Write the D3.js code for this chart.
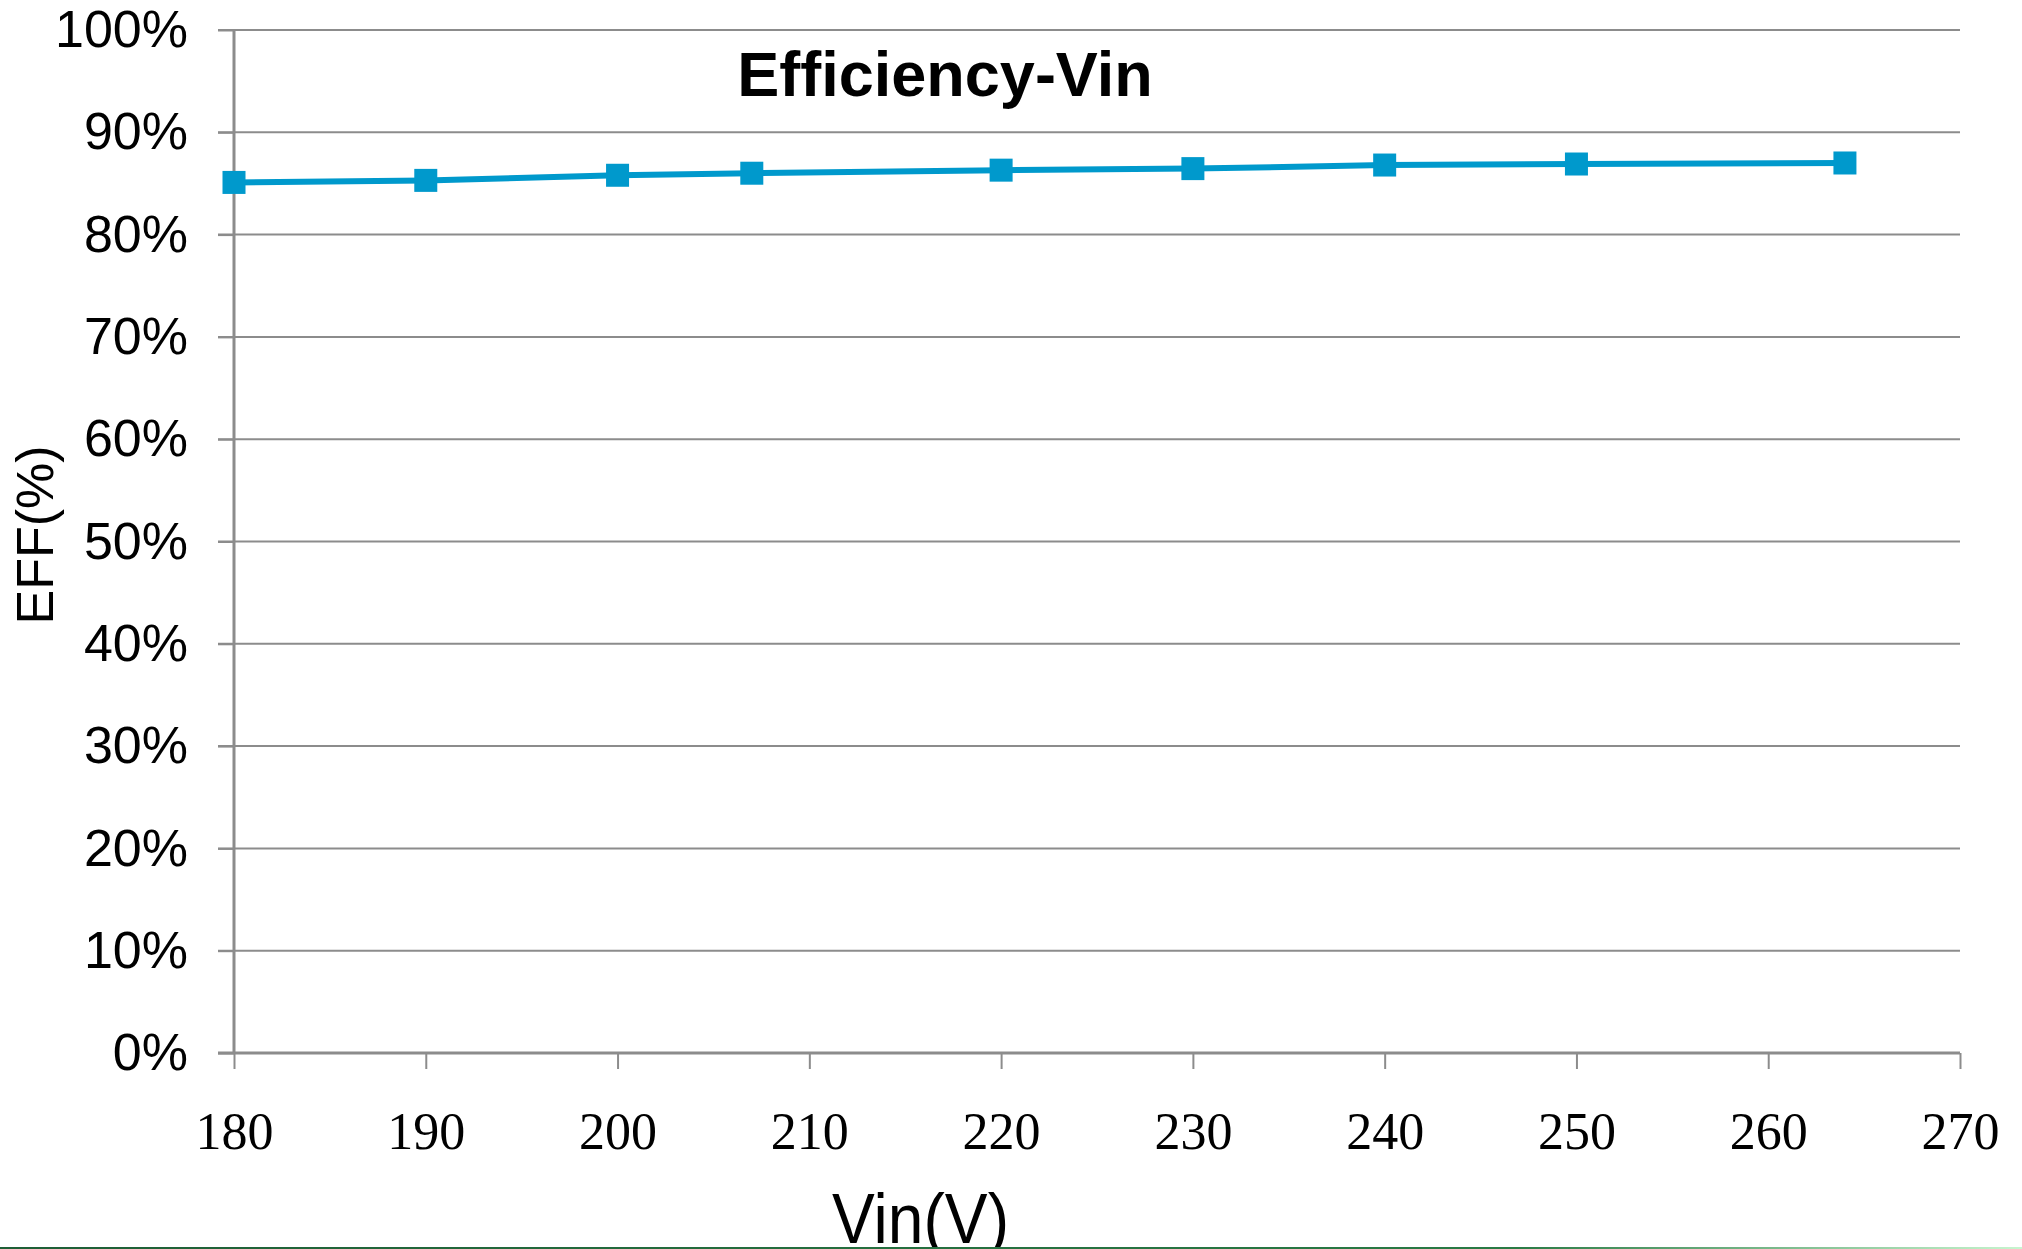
<!DOCTYPE html>
<html>
<head>
<meta charset="utf-8">
<script src="https://cdn.jsdelivr.net/npm/d3@7"></script>
<style>
  html, body { margin: 0; padding: 0; background: #fff; }
  svg { display: block; }
</style>
</head>
<body>
<div id="chart"></div>
<script>
// данные
const vin = [180, 190, 200, 207, 220, 230, 240, 250, 264];
const eff = [0.851, 0.853, 0.858, 0.860, 0.863, 0.8645, 0.868, 0.869, 0.870];
const xTicks = [180, 190, 200, 210, 220, 230, 240, 250, 260, 270];
const yTicks = [0, 0.1, 0.2, 0.3, 0.4, 0.5, 0.6, 0.7, 0.8, 0.9, 1.0];

var width = 2022, height = 1249;
var margin = {left: 234, top: 30, right: 62, bottom: 196};

const svg = d3.select("#chart").append("svg")
    .attr("width", width)
    .attr("height", height);

var xScale = d3.scaleLinear()
    .domain([180, 270])
    .range([margin.left, width - margin.right]);

var yScale = d3.scaleLinear()
    .domain([0, 1])
    .range([height - margin.bottom, margin.top]);

// сетка по горизонтали
svg.append("g")
    .selectAll("line")
    .data(yTicks.slice(1))
    .enter().append("line")
    .attr("x1", margin.left - 16)
    .attr("x2", width - margin.right)
    .attr("y1", d => yScale(d))
    .attr("y2", d => yScale(d))
    .attr("stroke", "#8c8c8c")
    .attr("stroke-width", 2);

// ось Y
var yAxis = d3.axisLeft(yScale)
    .tickValues(yTicks)
    .tickSize(16)
    .tickFormat(d3.format(".0%"));

svg.append("g")
    .attr("transform", `translate(${margin.left}, 0)`)
    .call(yAxis)
    .call(g => g.select(".domain").remove())
    .call(g => g.selectAll(".tick line").attr("stroke", "#8c8c8c").attr("stroke-width", 2))
    .call(g => g.selectAll(".tick text")
        .attr("x", -46)
        .attr("fill", "#000")
        .style("font-family", "Liberation Sans, Arial, sans-serif")
        .style("font-size", "52px"));

svg.append("line")
    .attr("x1", margin.left).attr("x2", margin.left)
    .attr("y1", margin.top).attr("y2", yScale(0))
    .attr("stroke", "#8c8c8c").attr("stroke-width", 3);

// ось X
var xAxis = d3.axisBottom(xScale)
    .tickValues(xTicks)
    .tickSize(16)
    .tickFormat(d3.format("d"));

svg.append("g")
    .attr("transform", `translate(0, ${yScale(0)})`)
    .call(xAxis)
    .call(g => g.select(".domain").remove())
    .call(g => g.selectAll(".tick line").attr("stroke", "#8c8c8c").attr("stroke-width", 2))
    .call(g => g.selectAll(".tick text")
        .attr("y", 59)
        .attr("dy", "0.71em")
        .attr("fill", "#000")
        .style("font-family", "Liberation Serif, Times New Roman, serif")
        .style("font-size", "52px"));

svg.append("line")
    .attr("x1", margin.left - 16).attr("x2", width - margin.right)
    .attr("y1", yScale(0)).attr("y2", yScale(0))
    .attr("stroke", "#8c8c8c").attr("stroke-width", 3);

// линия и маркеры
const data = vin.map((v, i) => ({x: v, y: eff[i]}));

svg.append("path")
    .datum(data)
    .attr("fill", "none")
    .attr("stroke", "#0099cc")
    .attr("stroke-width", 6)
    .attr("d", d3.line().x(d => xScale(d.x)).y(d => yScale(d.y)));

svg.selectAll("rect.marker")
    .data(data)
    .enter().append("rect")
    .attr("class", "marker")
    .attr("x", d => xScale(d.x) - 11.5)
    .attr("y", d => yScale(d.y) - 11.5)
    .attr("width", 23)
    .attr("height", 23)
    .attr("fill", "#0099cc");

// заголовок и подписи осей
svg.append("text")
    .attr("x", 945)
    .attr("y", 96)
    .attr("text-anchor", "middle")
    .style("font-family", "Liberation Sans, Arial, sans-serif")
    .style("font-weight", "bold")
    .style("font-size", "63px")
    .text("Efficiency-Vin");

svg.append("text")
    .attr("transform", "translate(53, 535) rotate(-90)")
    .attr("text-anchor", "middle")
    .style("font-family", "Liberation Sans, Arial, sans-serif")
    .style("font-size", "52px")
    .text("EFF(%)");

svg.append("text")
    .attr("x", 832)
    .attr("y", 1243)
    .attr("textLength", 177)
    .attr("lengthAdjust", "spacingAndGlyphs")
    .style("font-family", "Liberation Sans, Arial, sans-serif")
    .style("font-size", "70px")
    .text("Vin(V)");

// зелёная полоса внизу
const grad = svg.append("defs").append("linearGradient")
    .attr("id", "bottomGrad")
    .attr("x1", "0%").attr("x2", "100%");
grad.append("stop").attr("offset", "0%").attr("stop-color", "#1e5e36");
grad.append("stop").attr("offset", "75%").attr("stop-color", "#2a7a45");
grad.append("stop").attr("offset", "100%").attr("stop-color", "#c8f5cf");

svg.append("rect")
    .attr("x", 0).attr("y", 1247)
    .attr("width", width).attr("height", 2)
    .attr("fill", "url(#bottomGrad)");
</script>
</body>
</html>
